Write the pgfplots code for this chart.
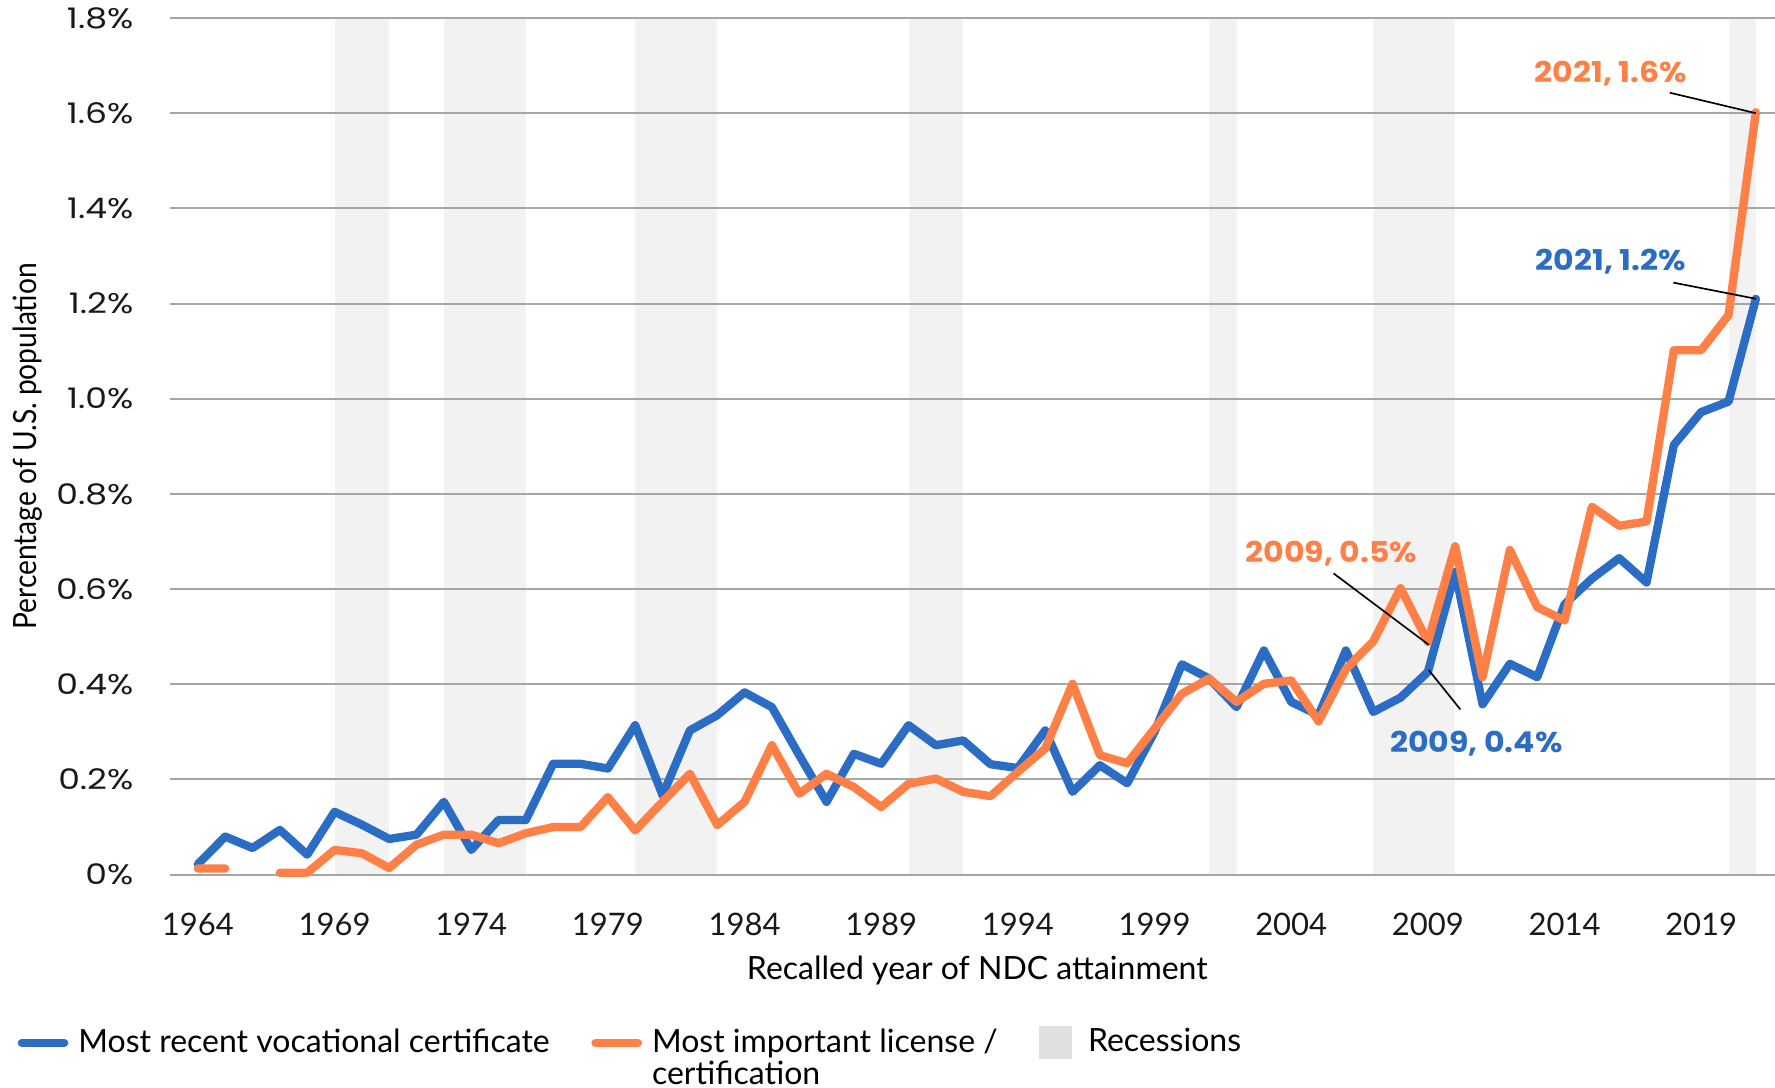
\documentclass[border=0pt]{standalone}
\usepackage{pgfplots}
\pgfplotsset{compat=1.18}
\usepackage{pgfplotstable}
\usepackage{fontspec}
\setmainfont{Lato}
\newfontfamily\popwide{Poppins}[FakeStretch=1.22]
\newfontfamily\popbold{Poppins}[FakeStretch=1.1]
\newfontfamily\latocond{Lato}[FakeStretch=0.88]
\definecolor{cblue}{HTML}{2B6CC4}
\definecolor{corange}{HTML}{FF8047}
\definecolor{gridgrey}{HTML}{A6A6A6}
\definecolor{recess}{HTML}{F2F2F2}
\definecolor{recesslegend}{HTML}{E0E0E0}
\pgfplotsset{
  linelegend/.style={legend image code/.code={\draw[##1, line cap=round] (1.3pt,0pt) -- (14pt,0pt); \path (15pt,0pt);}},
  boxlegend/.style={legend image code/.code={\fill[recesslegend] (0pt,-4.8pt) rectangle (9.5pt,4.8pt); \path (12.2pt,0pt);}},
}

\pgfplotstableread{
year voc lic
1964 0.022 0.013
1965 0.080 0.013
1966 0.056 nan
1967 0.094 0.004
1968 0.042 0.004
1969 0.132 0.052
1970 0.105 0.045
1971 0.075 0.014
1972 0.084 0.063
1973 0.153 0.084
1974 0.052 0.084
1975 0.115 0.066
1976 0.115 0.087
1977 0.233 0.100
1978 0.233 0.100
1979 0.223 0.163
1980 0.314 0.093
1981 0.167 0.153
1982 0.303 0.212
1983 0.335 0.104
1984 0.383 0.153
1985 0.352 0.272
1986 0.251 0.170
1987 0.153 0.212
1988 0.254 0.184
1989 0.233 0.142
1990 0.314 0.191
1991 0.272 0.202
1992 0.282 0.174
1993 0.232 0.165
1994 0.224 0.216
1995 0.303 0.265
1996 0.174 0.401
1997 0.230 0.251
1998 0.192 0.234
1999 0.300 0.307
2000 0.442 0.380
2001 0.412 0.412
2002 0.352 0.363
2003 0.471 0.401
2004 0.363 0.408
2005 0.335 0.322
2006 0.471 0.432
2007 0.342 0.490
2008 0.372 0.602
2009 0.426 0.489
2010 0.636 0.690
2011 0.358 0.415
2012 0.443 0.682
2013 0.415 0.562
2014 0.568 0.534
2015 0.622 0.773
2016 0.665 0.733
2017 0.614 0.742
2018 0.903 1.102
2019 0.972 1.102
2020 0.994 1.176
2021 1.210 1.602
}\datatable

\begin{document}
\begin{tikzpicture}
\pgfplotsset{set layers}
\begin{axis}[
  scale only axis,
  width=481.5pt, height=257pt,
  xmin=1962.98, xmax=2021.7,
  ymin=0, ymax=1.8,
  axis line style={draw=none},
  tick style={draw=none},
  major tick length=0pt,
  ymajorgrids,
  major grid style={color=gridgrey, line width=0.6pt},
  ytick={0,0.2,0.4,0.6,0.8,1.0,1.2,1.4,1.6,1.8},
  yticklabels={0\%,0.2\%,0.4\%,0.6\%,0.8\%,1.0\%,1.2\%,1.4\%,1.6\%,1.8\%},
  xtick={1964,1969,1974,1979,1984,1989,1994,1999,2004,2009,2014,2019},
  xticklabels={1964,1969,1974,1979,1984,1989,1994,1999,2004,2009,2014,2019},
  tick label style={inner sep=0pt, color=black!90},
  yticklabel style={font=\popwide\fontsize{8.5}{10}\selectfont, anchor=east, xshift=-10.8pt},
  xticklabel style={font=\fontsize{9.3}{10}\selectfont, anchor=north, yshift=-11.3pt},
  xlabel={Recalled year of NDC attainment},
  xlabel style={at={(axis description cs:0.503,0)}, anchor=base, yshift=-31.6pt, font=\fontsize{9.6}{11}\selectfont, inner sep=0pt},
  ylabel={Percentage of U.S. population},
  every axis y label/.style={at={(axis description cs:-0.0885,0.5)}, rotate=90, anchor=center, font=\latocond\fontsize{9.6}{11}\selectfont, inner sep=0pt},
  unbounded coords=jump,
  legend columns=3,
  legend cell align=left,
  legend style={at={(axis description cs:-0.0953,-0.171)}, anchor=north west, draw=none, fill=none,
    font=\fontsize{9.6}{9.3}\selectfont, inner sep=0pt,
    /tikz/every even column/.append style={column sep=10.5pt}},
  clip=false,
]
% recession bands
\addplot[fill=recess, draw=none, forget plot, on layer=axis background] coordinates {(1969,0) (1969,1.8) (1971,1.8) (1971,0)} -- cycle;
\addplot[fill=recess, draw=none, forget plot, on layer=axis background] coordinates {(1973,0) (1973,1.8) (1976,1.8) (1976,0)} -- cycle;
\addplot[fill=recess, draw=none, forget plot, on layer=axis background] coordinates {(1980,0) (1980,1.8) (1983,1.8) (1983,0)} -- cycle;
\addplot[fill=recess, draw=none, forget plot, on layer=axis background] coordinates {(1990,0) (1990,1.8) (1992,1.8) (1992,0)} -- cycle;
\addplot[fill=recess, draw=none, forget plot, on layer=axis background] coordinates {(2001,0) (2001,1.8) (2002,1.8) (2002,0)} -- cycle;
\addplot[fill=recess, draw=none, forget plot, on layer=axis background] coordinates {(2007,0) (2007,1.8) (2010,1.8) (2010,0)} -- cycle;
\addplot[fill=recess, draw=none, forget plot, on layer=axis background] coordinates {(2020,0) (2020,1.8) (2021,1.8) (2021,0)} -- cycle;

\addplot[color=cblue, line width=2.5pt, line join=round, line cap=round, linelegend]
  table[x=year, y=voc] {\datatable};
\addlegendentry{Most recent vocational certificate}
\addplot[color=corange, line width=2.5pt, line join=round, line cap=round, linelegend]
  table[x=year, y=lic] {\datatable};
\addlegendentry{{\begin{tabular}[t]{@{}l@{}}Most important license /\\certification\end{tabular}}}
\addlegendimage{boxlegend}
\addlegendentry{Recessions}

% annotations
\node[font=\popbold\bfseries\fontsize{8.6}{10}\selectfont, text=corange] at (axis cs:2015.70,1.684) {2021, 1.6\%};
\draw[black, line width=0.5pt] (axis cs:2017.85,1.643) -- (axis cs:2021,1.60);
\node[font=\popbold\bfseries\fontsize{8.6}{10}\selectfont, text=cblue] at (axis cs:2015.70,1.287) {2021, 1.2\%};
\draw[black, line width=0.5pt] (axis cs:2017.98,1.244) -- (axis cs:2021,1.21);
\node[font=\popbold\bfseries\fontsize{8.6}{10}\selectfont, text=corange] at (axis cs:2005.47,0.675) {2009, 0.5\%};
\draw[black, line width=0.5pt] (axis cs:2005.55,0.633) -- (axis cs:2009.03,0.483);
\node[font=\popbold\bfseries\fontsize{8.6}{10}\selectfont, text=cblue] at (axis cs:2010.77,0.276) {2009, 0.4\%};
\draw[black, line width=0.5pt] (axis cs:2010.19,0.347) -- (axis cs:2009.03,0.43);
\end{axis}
\pgfresetboundingbox
\path[use as bounding box] (-51pt,-63.9pt) rectangle (481.5pt,262.4pt);
\end{tikzpicture}
\end{document}
